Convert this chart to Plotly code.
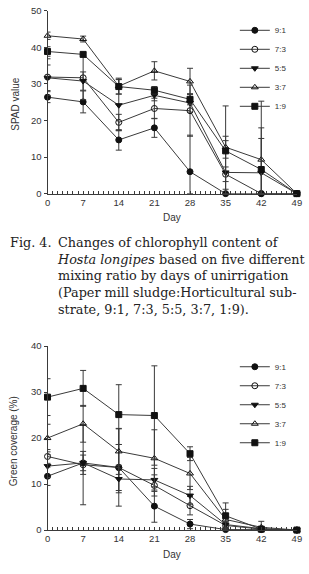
import plotly.graph_objects as go

days = [0, 7, 14, 21, 28, 35, 42, 49]
ratios = ["9:1", "7:3", "5:5", "3:7", "1:9"]

spad_91 = [26.4, 25.1, 14.7, 18.0, 6.0, 0.0, 0.0, 0.0]
spad_73 = [31.9, 31.7, 19.5, 23.3, 22.7, 5.3, 0.0, 0.0]
spad_55 = [31.7, 30.8, 24.2, 26.9, 24.8, 5.8, 5.7, 0.0]
spad_37 = [43.2, 42.3, 29.4, 33.6, 30.7, 12.7, 9.3, 0.0]
spad_19 = [38.9, 38.1, 29.3, 28.3, 25.8, 11.7, 6.6, 0.0]

spad_err_91 = [1.5, 3.0, 2.8, 2.6, 10.0, 1.2, 0.0, 0.0]
spad_err_73 = [5.0, 6.0, 2.2, 2.8, 7.0, 2.0, 0.0, 0.0]
spad_err_55 = [3.5, 2.5, 7.0, 1.5, 2.5, 8.7, 9.4, 0.0]
spad_err_37 = [1.0, 0.8, 2.2, 2.5, 3.6, 3.0, 16.0, 0.0]
spad_err_19 = [1.3, 0.5, 2.0, 1.0, 1.5, 12.3, 11.4, 0.0]

cov_91 = [11.7, 14.6, 13.6, 5.2, 1.3, 0.1, 0.1, 0.0]
cov_73 = [16.0, 14.2, 13.6, 9.7, 5.3, 1.0, 0.2, 0.0]
cov_55 = [13.9, 14.6, 11.1, 10.9, 7.5, 1.2, 0.3, 0.0]
cov_37 = [20.0, 23.1, 17.1, 15.6, 12.3, 2.3, 0.6, 0.0]
cov_19 = [28.9, 30.8, 25.1, 24.9, 16.6, 3.1, 0.2, 0.0]

cov_err_91 = [2.0, 1.7, 5.0, 3.5, 1.0, 0.2, 0.1, 0.0]
cov_err_73 = [1.5, 8.7, 8.4, 2.3, 2.0, 0.5, 0.2, 0.0]
cov_err_55 = [2.5, 2.5, 3.0, 2.5, 2.0, 0.6, 0.3, 0.0]
cov_err_37 = [3.0, 4.0, 5.0, 6.2, 3.5, 2.2, 1.3, 0.0]
cov_err_19 = [4.0, 3.9, 6.5, 10.8, 1.5, 2.8, 0.3, 0.0]

spad = [spad_91, spad_73, spad_55, spad_37, spad_19]
spad_err = [spad_err_91, spad_err_73, spad_err_55, spad_err_37, spad_err_19]
cov = [cov_91, cov_73, cov_55, cov_37, cov_19]
cov_err = [cov_err_91, cov_err_73, cov_err_55, cov_err_37, cov_err_19]

symbols = ["circle", "circle-open", "triangle-down", "triangle-up-open", "square"]
LINE = "#3a3a3a"
W, H = 309, 574

fig = go.Figure()


def add_series(vals, errs, xa, ya, legend):
    for name, v, e, sym in zip(ratios, vals, errs, symbols):
        minus = [min(a, b) for a, b in zip(e, v)]
        fig.add_trace(go.Scatter(
            x=days, y=v, name=name, mode="lines+markers",
            xaxis=xa, yaxis=ya, legend=legend, cliponaxis=False,
            line=dict(color=LINE, width=1),
            marker=dict(symbol=sym, size=6, color="#111111",
                        line=dict(color="#111111", width=1)),
            error_y=dict(type="data", array=e, arrayminus=minus, symmetric=False,
                         color=LINE, thickness=1, width=3),
        ))


add_series(spad, spad_err, "x", "y", "legend")
add_series(cov, cov_err, "x2", "y2", "legend2")

x0, x1 = 45.7 / W, 301.7 / W
top_dom = [1 - 191.3 / H, 1 - 5 / H]
bot_dom = [1 - 534.3 / H, 1 - 346.7 / H]

tickfont = dict(family="Liberation Sans, Arial, sans-serif", size=9.5, color="#333333")
xcommon = dict(range=[0, 49], tickvals=days, showline=True, linecolor=LINE, linewidth=1,
               ticks="inside", ticklen=3, tickcolor=LINE, showgrid=False, zeroline=False,
               tickfont=tickfont, fixedrange=True,
               minor=dict(dtick=1, tick0=0, ticks="inside", ticklen=3, tickcolor=LINE, showgrid=False))
ycommon = dict(showline=True, linecolor=LINE, linewidth=1, ticks="outside", ticklen=3,
               tickcolor=LINE, showgrid=False, zeroline=False, tickfont=tickfont, dtick=10)

legfont = dict(family="Liberation Sans, Arial, sans-serif", size=8, color="#333333")
fig.update_layout(
    width=W, height=H, margin=dict(l=0, r=0, t=0, b=0),
    paper_bgcolor="white", plot_bgcolor="white",
    xaxis=dict(domain=[x0, x1], anchor="y", **xcommon),
    yaxis=dict(domain=top_dom, anchor="x", range=[0, 50], **ycommon),
    xaxis2=dict(domain=[x0, x1], anchor="y2", **xcommon),
    yaxis2=dict(domain=bot_dom, anchor="x2", range=[0, 40], **ycommon),
    legend=dict(x=238 / W, y=1 - 10 / H, xanchor="left", yanchor="top", font=legfont,
                itemwidth=30, bgcolor="rgba(0,0,0,0)", tracegroupgap=0),
    legend2=dict(x=238 / W, y=1 - 353 / H, xanchor="left", yanchor="top", font=legfont,
                 itemwidth=30, bgcolor="rgba(0,0,0,0)", tracegroupgap=0),
    showlegend=True,
)

afont = dict(family="Liberation Sans, Arial, sans-serif", size=10, color="#333333")
cap = dict(family="DejaVu Serif, serif", size=12.8, color="#222222")
annotations = [
    dict(text="SPAD value", x=12 / W, y=1 - 100 / H, textangle=-90, font=afont),
    dict(text="Day", x=173.7 / W, y=1 - 216 / H, font=afont),
    dict(text="Green coverage (%)", x=11 / W, y=1 - 444 / H, textangle=-90, font=afont),
    dict(text="Day", x=173.7 / W, y=1 - 559 / H, font=afont),
    dict(text="Fig. 4.", x=5 / W, y=1 - 231 / H, xanchor="left", yanchor="top", font=cap),
    dict(text="Changes of chlorophyll content of<br>"
              "<i>Hosta longipes</i> based on five different<br>"
              "mixing ratio by days of unirrigation<br>"
              "(Paper mill sludge:Horticultural sub-<br>"
              "strate, 9:1, 7:3, 5:5, 3:7, 1:9).",
         x=53 / W, y=1 - 231 / H, xanchor="left", yanchor="top", align="left", font=cap),
]
for a in annotations:
    a.setdefault("xanchor", "center")
    a.setdefault("yanchor", "middle")
    fig.add_annotation(xref="paper", yref="paper", showarrow=False, **a)

fig.write_html("out.html")
